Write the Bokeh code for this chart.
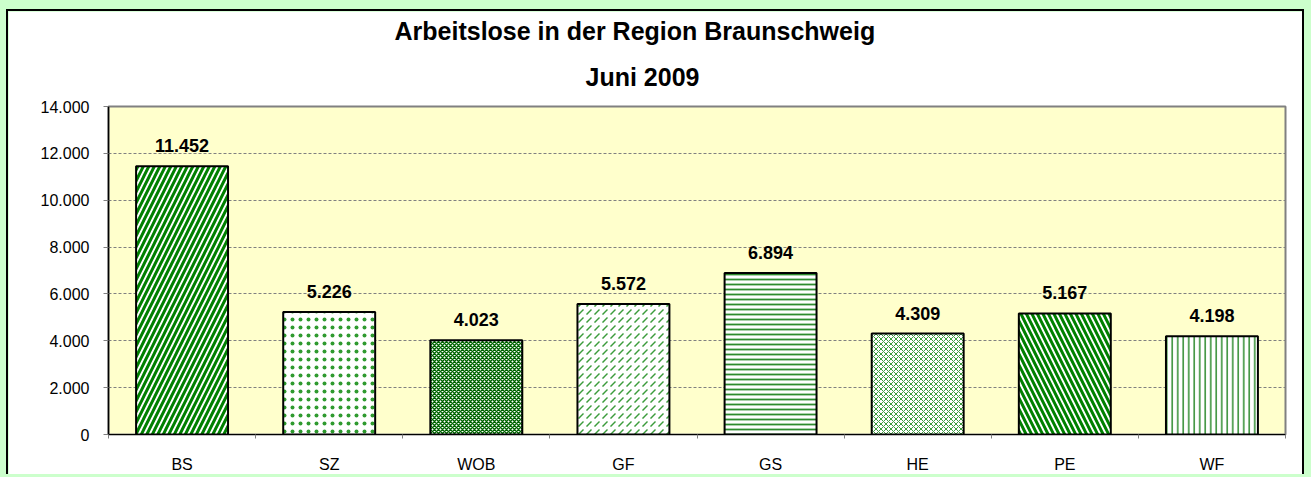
from bokeh.plotting import figure
from bokeh.models import ColumnDataSource, Range1d, FixedTicker, Title, LabelSet
from bokeh.core.properties import value
from bokeh.embed import file_html
from bokeh.resources import INLINE

# ---------------- data ----------------
categories = ["BS", "SZ", "WOB", "GF", "GS", "HE", "PE", "WF"]
values = [11452, 5226, 4023, 5572, 6894, 4309, 5167, 4198]
y_ticks = [0, 2000, 4000, 6000, 8000, 10000, 12000, 14000]
y_tick_labels = ["0", "2.000", "4.000", "6.000", "8.000", "10.000", "12.000", "14.000"]
title_line1 = "Arbeitslose in der Region Braunschweig"
title_line2 = "Juni 2009"

# ---------------- styles ----------------
hatch_patterns = ["/", ".", "x", ",", "-", "x", "\\", "|"]
hatch_colors = ["#008000", "#2f9a2f", "#006400", "#3c9c3c", "#2e8b2e", "#3c9c3c", "#008000", "#2e8b2e"]
hatch_scales = [11, 8, 4, 8, 5, 5, 11, 5.5]
hatch_weights = [3, 0.6, 1.5, 1.5, 1.8, 1, 3, 1.5]

FONT = "Liberation Sans"

# category slots on a numeric axis: slot i spans [2i, 2i+2], centre 2i+1
n = len(categories)
centers = [2 * i + 1 for i in range(n)]
bounds = [2 * i for i in range(n + 1)]

src = ColumnDataSource(dict(
    x=centers,
    cat=categories,
    value=values,
    label=[f"{v:,}".replace(",", ".") for v in values],
    hatch=hatch_patterns,
    hcolor=hatch_colors,
    hscale=hatch_scales,
    hweight=hatch_weights,
))

p = figure(width=1298, height=465,
           x_range=Range1d(bounds[0], bounds[-1]),
           y_range=Range1d(y_ticks[0], y_ticks[-1]),
           output_backend="svg", toolbar_location=None,
           min_border_left=100, min_border_right=21,
           min_border_top=95, min_border_bottom=42,
           background_fill_color="#FFFFCC", border_fill_color="white",
           outline_line_color="#808080", outline_line_width=2)
p.styles = {"border-left": "2px solid black", "border-top": "2px solid black",
            "border-right": "2px solid black"}

# x axis: labels at slot centres, small ticks (minor) at slot boundaries
xa = p.below[0]
xa.ticker = FixedTicker(ticks=centers, minor_ticks=bounds)
xa.major_label_overrides = {c: k for c, k in zip(centers, categories)}
xa.major_tick_line_color = None
xa.major_tick_out = 0
xa.major_tick_in = 0
xa.minor_tick_line_color = "#808080"
xa.minor_tick_out = 4
xa.minor_tick_in = 0
xa.major_label_standoff = 17
xa.major_label_text_font = FONT
xa.major_label_text_font_size = "16px"
xa.major_label_text_color = "black"
xa.axis_line_color = "black"
xa.axis_line_width = 1

ya = p.left[0]
ya.ticker = FixedTicker(ticks=y_ticks, minor_ticks=[])
ya.major_label_overrides = {t: l for t, l in zip(y_ticks, y_tick_labels)}
ya.major_label_text_font = FONT
ya.major_label_text_font_size = "16px"
ya.major_label_text_color = "black"
ya.major_label_standoff = 14
ya.major_tick_out = 5
ya.major_tick_in = 0
ya.major_tick_line_color = "#808080"
ya.minor_tick_line_color = None
ya.axis_line_color = "black"
ya.axis_line_width = 1.5

p.xgrid.visible = False
p.ygrid.ticker = FixedTicker(ticks=y_ticks, minor_ticks=[])
p.ygrid.grid_line_color = "#808080"
p.ygrid.grid_line_dash = "3 2"
p.ygrid.grid_line_width = 1

p.vbar(x="x", top="value", width=1.25, source=src,
       fill_color="white", line_color="black", line_width=2,
       hatch_pattern="hatch", hatch_color="hcolor",
       hatch_scale="hscale", hatch_weight="hweight")

labels = LabelSet(x="x", y="value", text="label", source=src,
                  y_offset=14, text_align="center", text_baseline="alphabetic",
                  text_font=value(FONT), text_font_style="bold", text_font_size="18px",
                  text_color="black")
p.add_layout(labels)

t2 = Title(text=title_line2, align="left", offset=477, text_font=FONT,
           text_font_style="bold", text_font_size="25px", text_color="black",
           standoff=32)
t1 = Title(text=title_line1, align="left", offset=286, text_font=FONT,
           text_font_style="bold", text_font_size="25px", text_color="black",
           standoff=0)
p.above = [t2, t1]

template = """
{% block postamble %}
<style>
html, body { background: #CCFFCC; overflow: hidden; }
body { padding: 9px 0 0 6px; }
</style>
{% endblock %}
"""

html = file_html(p, INLINE, title="Arbeitslose in der Region Braunschweig", template=template)
open("out.html", "w").write(html)
